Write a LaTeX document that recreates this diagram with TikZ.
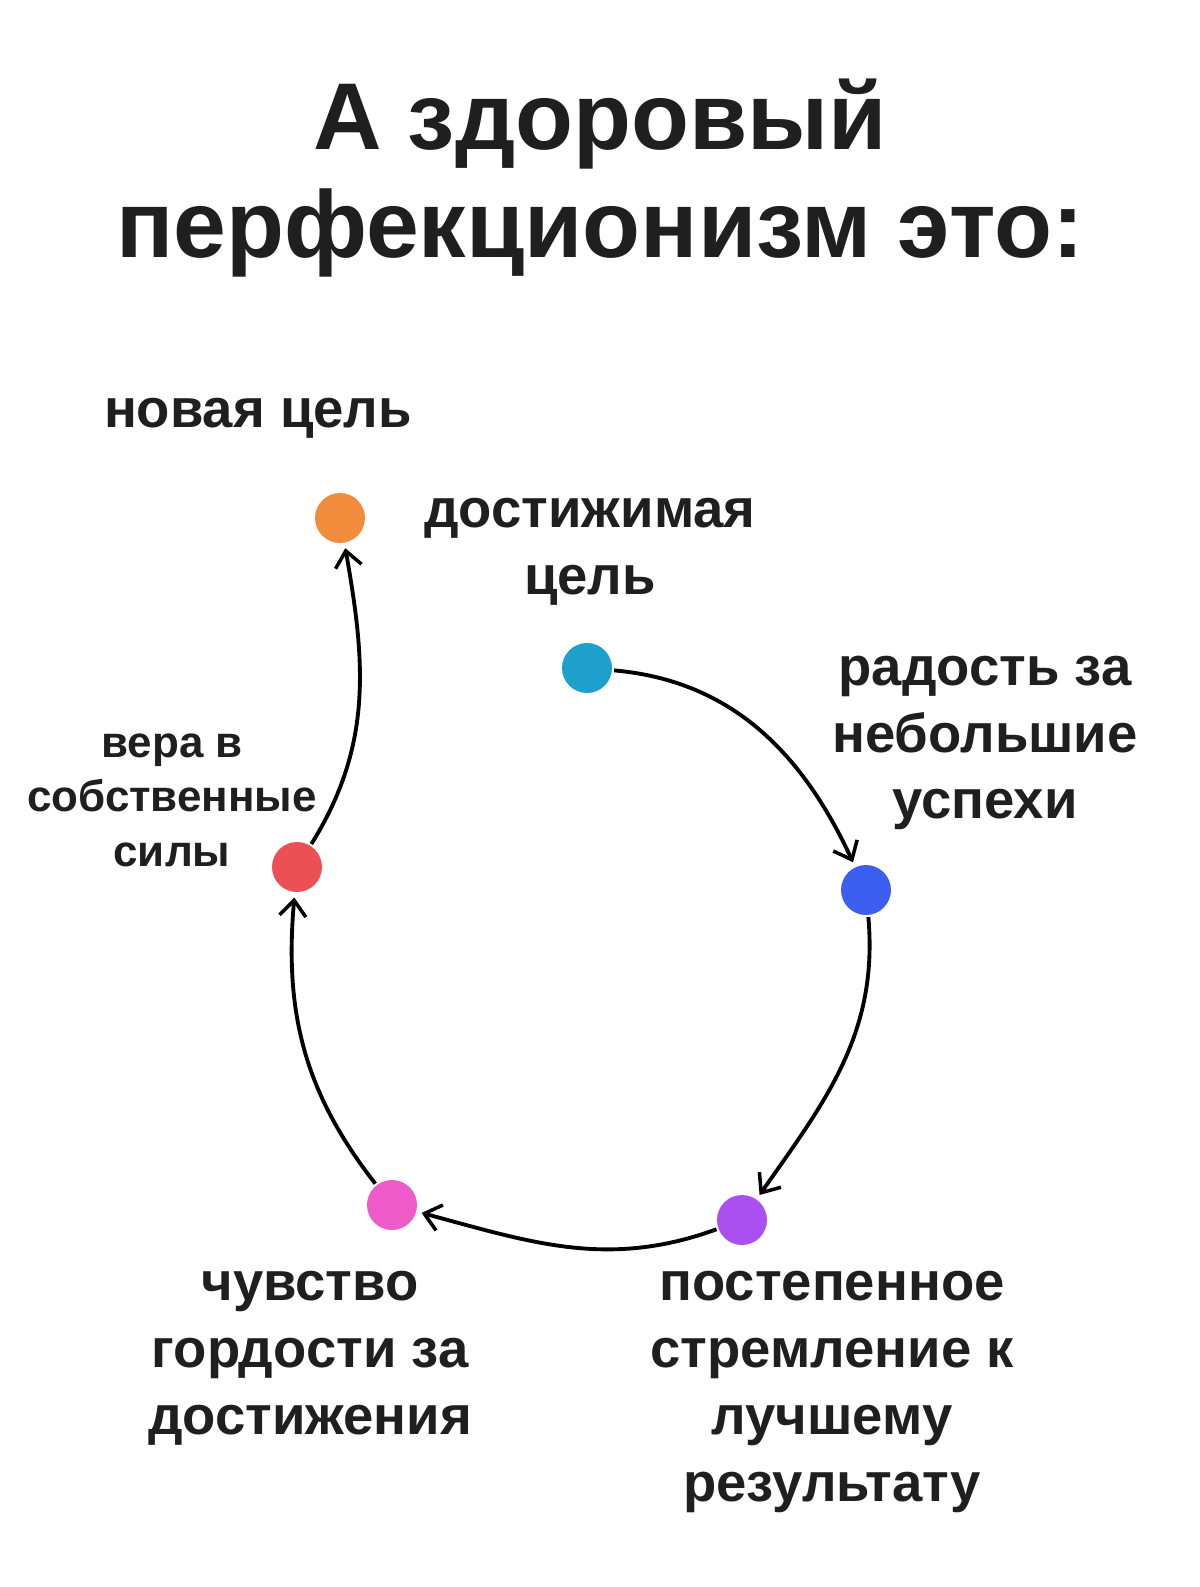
\documentclass[tikz,border=0pt]{standalone}
\usepackage{fontspec}
\setmainfont{Liberation Sans}
\usepackage{tikz}
\usetikzlibrary{arrows.meta}
\definecolor{dOrange}{RGB}{240,140,60}
\definecolor{dCyan}{RGB}{30,160,205}
\definecolor{dBlue}{RGB}{60,95,240}
\definecolor{dPurple}{RGB}{170,80,240}
\definecolor{dPink}{RGB}{238,90,200}
\definecolor{dRed}{RGB}{235,80,85}
\tikzstyle{dot}=[circle,minimum size=1cm,inner sep=0pt]

\begin{document}
\begin{tikzpicture}[x=0.02cm,y=-0.02cm]

\tikzstyle{lbl}=[align=center,font=\bfseries\fontsize{31}{38}\selectfont,color=black!88]
\tikzstyle{lblsm}=[lbl,font=\bfseries\fontsize{25}{31}\selectfont]
\tikzstyle{arrow}=[-{Straight Barb[length=9pt,width=15pt,line width=2pt]},line width=2.2pt,shorten >=3pt,shorten <=1pt]

\useasboundingbox (0,0) rectangle (1200,1587);

\node (title) [lbl,font=\bfseries\fontsize{54}{62}\selectfont] at (600,178) {А здоровый\\перфекционизм это:};

\node (goal)  [dot,fill=dOrange] at (340,518) {};
\node (start) [dot,fill=dCyan]   at (587,668) {};
\node (joy)   [dot,fill=dBlue]   at (866,890) {};
\node (step)  [dot,fill=dPurple] at (742,1220) {};
\node (pride) [dot,fill=dPink]   at (392,1205) {};
\node (faith) [dot,fill=dRed]    at (297,867) {};

\node (tgoal)  [lbl] at (258,418) {новая цель};
\node (tstart) [lbl] at (590,552) {достижимая\\цель};
\node (tjoy)   [lbl] at (985,743) {радость за\\небольшие\\успехи};
\node (tstep)  [lbl] at (832,1392) {постепенное\\стремление к\\лучшему\\результату};
\node (tpride) [lbl] at (310,1358) {чувство\\гордости за\\достижения};
\node (tfaith) [lblsm] at (172,800) {вера в\\собственные\\силы};

\draw [arrow] (start) to[out=-5,in=115] (joy);
\draw [arrow] (joy) to[out=-85,in=55] (step);
\draw [arrow] (step) to[out=200,in=-15] (pride);
\draw [arrow] (pride) to[out=128,in=-95] (faith);
\draw [arrow] (faith) to[out=58,in=-80] (goal);

\end{tikzpicture}
\end{document}
